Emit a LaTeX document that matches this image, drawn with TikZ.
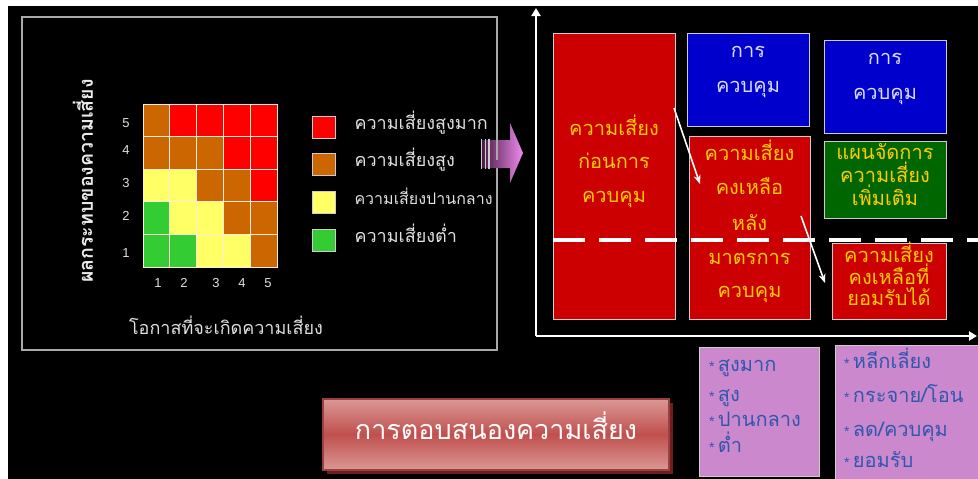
\documentclass[tikz,border=0pt]{standalone}
\usepackage{fontspec}
\setmainfont{Liberation Sans}
\newfontfamily\thai[Script=Thai]{Loma}
\usetikzlibrary{arrows.meta}
\definecolor{cR}{HTML}{FF0000}
\definecolor{cO}{HTML}{CC6600}
\definecolor{cY}{HTML}{FFFF66}
\definecolor{cG}{HTML}{33CC33}
\definecolor{boxred}{HTML}{CC0000}
\definecolor{boxblue}{HTML}{0000CC}
\definecolor{boxgreen}{HTML}{006600}
\definecolor{txtyellow}{HTML}{FFCC00}
\definecolor{txtlav}{HTML}{DDDDFF}
\definecolor{pinkbox}{HTML}{CC88CC}
\definecolor{txtblue}{HTML}{2F56B0}
\definecolor{framegray}{HTML}{A8A8A8}
\definecolor{btnlight}{HTML}{DA9896}
\definecolor{btnmid}{HTML}{C0504D}
\definecolor{btnshadow}{HTML}{6E1E1E}
\definecolor{arrdark}{HTML}{4A1A44}
\definecolor{arrpink}{HTML}{EE8CEE}
\begin{document}
\begin{tikzpicture}[x=1pt,y=-1pt,
  cell/.style={draw=white!85!orange, line width=0.8pt},
  lab/.style={text=white!88!black, font=\fontsize{13}{15}\selectfont},
  legtxt/.style={text=white!88!black, font=\thai\fontsize{18}{20}\selectfont, anchor=mid west},
  box/.style={draw=white!80!black, line width=1pt, anchor=north west, inner sep=0pt},
  btxt/.style={font=\thai\fontsize{20}{22}\selectfont, anchor=mid, inner sep=0pt},
  ltxt/.style={font=\thai\fontsize{20}{22}\selectfont, anchor=mid west, inner sep=0pt, text=txtblue},
  wline/.style={white, line width=2.5pt},
  warrow/.style={white, line width=1.6pt, -{Stealth[length=9pt,width=7pt]}}
]
\useasboundingbox (0,0) rectangle (978,479);
\fill[white] (0,0) rectangle (978,479);
\fill[black] (8,6) rectangle (978,479);

% ---------------- left panel ----------------
\draw[framegray, line width=1.2pt] (22,17) rectangle (497,350);

\foreach \row [count=\r from 0] in {{cO,cR,cR,cR,cR},{cO,cO,cO,cR,cR},{cY,cY,cO,cO,cR},{cG,cY,cY,cO,cO},{cG,cG,cY,cY,cO}}{
  \foreach \c [count=\i from 0] in \row {
    \draw[cell, fill=\c] ({143+26.8*\i},{104+32.6*\r}) rectangle ++(26.8,32.6);
  }
}
\foreach \v/\y in {5/123,4/150,3/183,2/216,1/253}{
  \node[lab] (row\v) at (126,\y) {\v};
}
\foreach \v/\x in {1/158,2/184,3/216,4/242,5/268}{
  \node[lab] (col\v) at (\x,283) {\v};
}
\node[text=white!92!black, font=\thai\bfseries\fontsize{19.5}{21}\selectfont, rotate=90] (ylab) at (83,181) {ผลกระทบของความเสี่ยง};
\node[text=white!88!black, font=\thai\fontsize{18}{20}\selectfont] (xlab) at (226,325) {โอกาสที่จะเกิดความเสี่ยง};

\foreach \c/\y/\t/\s [count=\k] in {cR/127/ความเสี่ยงสูงมาก/18, cO/164/ความเสี่ยงสูง/18, cY/202/ความเสี่ยงปานกลาง/16, cG/240/ความเสี่ยงต่ำ/18}{
  \draw[draw=white!80!black, line width=1pt, fill=\c] (312,\y-11) rectangle (335,\y+11);
  \node[legtxt, font=\thai\fontsize{\s}{20}\selectfont] (leg\k) at (351,\y) {\t};
}

% pink block arrow
\shade[left color=arrdark, right color=arrpink, shading angle=90]
  (482,140) -- (510,140) -- (510,123) -- (523,153) -- (510,183) -- (510,168) -- (482,168) -- cycle;
\foreach \x in {480.5,484.5,488}{ \fill[white!80!black] (\x,139) rectangle ++(1.8,30); }
\draw[framegray, line width=1.2pt] (497,17) -- (497,160);

% ---------------- right panel ----------------
\coordinate (origin) at (536,336);
\coordinate (ytop) at (536,8);
\coordinate (xend) at (977,336);
\draw[wline, -{Triangle[length=8pt,width=9pt]}] (origin) -- (ytop);
\draw[wline, -{Triangle[length=8pt,width=9pt]}] (origin) -- (xend);

\node[box, fill=boxred, minimum width=122pt, minimum height=286pt] (before) at (553,33) {};
\node[box, fill=boxblue, minimum width=122pt, minimum height=93pt] (ctrlA) at (687,33) {};
\node[box, fill=boxblue, minimum width=122pt, minimum height=93pt] (ctrlB) at (824,40) {};
\node[box, fill=boxred, minimum width=121pt, minimum height=183pt] (resid) at (689,136) {};
\node[box, fill=boxgreen, minimum width=122pt, minimum height=77pt] (plan) at (824,141) {};
\node[box, fill=boxred, minimum width=114pt, minimum height=76pt] (accept) at (832,243) {};

% dashed line
\coordinate (dashA) at (553,240);
\coordinate (dashB) at (978,240);
\draw[white, line width=4pt, dash pattern=on 32pt off 14pt] (dashA) -- (dashB);

% texts
\foreach \t/\y [count=\k] in {ความเสี่ยง/133, ก่อนการ/166, ควบคุม/200}{
  \node[btxt, text=txtyellow] (tb\k) at (614,\y) {\t};
}
\node[btxt, text=txtlav] (ta1) at (748,55) {การ};
\node[btxt, text=txtlav] (ta2) at (748,90) {ควบคุม};
\node[btxt, text=txtlav] (tc1) at (885,62) {การ};
\node[btxt, text=txtlav] (tc2) at (885,97) {ควบคุม};
\foreach \t/\y [count=\k] in {ความเสี่ยง/158, คงเหลือ/192, หลัง/228, มาตรการ/262, ควบคุม/295}{
  \node[btxt, text=txtyellow] (tr\k) at (749.5,\y) {\t};
}
\foreach \t/\y [count=\k] in {แผนจัดการ/157, ความเสี่ยง/180, เพิ่มเติม/203}{
  \node[btxt, text=txtyellow] (tp\k) at (885,\y) {\t};
}
\foreach \t/\y [count=\k] in {ความเสี่ยง/260, คงเหลือที่/282, ยอมรับได้/303}{
  \node[btxt, text=txtyellow] (tq\k) at (889,\y) {\t};
}

% white arrows
\coordinate (a1s) at (674,108);
\coordinate (a1e) at (700,184);
\coordinate (a2s) at (801,216);
\coordinate (a2e) at (825,283);
\draw[warrow] (a1s) -- (a1e);
\draw[warrow] (a2s) -- (a2e);

% ---------------- bottom boxes ----------------
\node[box, fill=pinkbox, minimum width=120pt, minimum height=129pt] (levels) at (699,347) {};
\node[box, fill=pinkbox, minimum width=145pt, minimum height=136pt] (responses) at (835,345) {};
\foreach \t/\y [count=\k] in {สูงมาก/369, สูง/399, ปานกลาง/424, ต่ำ/450}{
  \node[ltxt] (lv\k) at (709,\y) {{\fontspec{Liberation Sans}\fontsize{14}{14}\selectfont *}\,\t};
}
\foreach \t/\y [count=\k] in {หลีกเลี่ยง/366, {กระจาย/โอน}/400, {ลด/ควบคุม}/434, ยอมรับ/465}{
  \node[ltxt] (rs\k) at (844,\y) {{\fontspec{Liberation Sans}\fontsize{14}{14}\selectfont *}\,\t};
}

% ---------------- title button ----------------
\fill[btnshadow] (327,403) rectangle (673,474);
\shade[top color=btnlight, bottom color=btnmid] (323,399) rectangle (669,434.5);
\shade[top color=btnmid, bottom color=btnlight] (323,434.5) rectangle (669,470);
\draw[btnmid!80!black, line width=1.2pt] (323,399) rectangle (669,470);
\node[text=white, font=\thai\fontsize{27}{30}\selectfont, anchor=mid] (title) at (496,437) {การตอบสนองความเสี่ยง};
\end{tikzpicture}
\end{document}
